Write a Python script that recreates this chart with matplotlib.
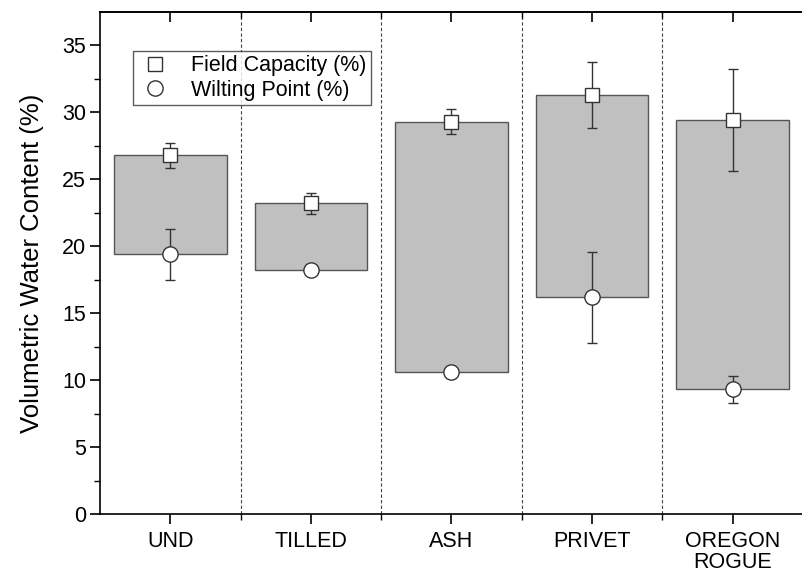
import numpy as np
import matplotlib.pyplot as plt
from matplotlib.lines import Line2D

plt.rcParams['font.family'] = ['Liberation Sans', 'DejaVu Sans']

# data
sites = ['UND', 'TILLED', 'ASH', 'PRIVET', 'OREGON\nROGUE']
field_capacity = [26.8, 23.2, 29.3, 31.3, 29.45]
fc_err = [0.95, 0.8, 0.95, 2.5, 3.8]
wilting_point = [19.4, 18.2, 10.6, 16.2, 9.3]
wp_err = [1.9, 0.0, 0.0, 3.4, 1.0]

x = np.arange(1, len(sites) + 1)

fig = plt.figure(figsize=(8.03, 5.79), dpi=100)
ax = fig.add_axes([0.1245, 0.1123, 0.8755, 0.867])

# floating bars from wilting point up to field capacity
heights = np.array(field_capacity) - np.array(wilting_point)
ax.bar(x, heights, bottom=wilting_point, width=0.8, color='#c0c0c0',
       edgecolor='#555555', linewidth=1.0, zorder=1)

# separators between groups
for xs in np.arange(1.5, len(sites), 1.0):
    ax.axvline(xs, color='#444444', linestyle=(0, (3, 2)), linewidth=0.8, zorder=0)

ax.errorbar(x, field_capacity, yerr=fc_err, fmt='s', markersize=10,
            markerfacecolor='white', markeredgecolor='#333333', markeredgewidth=1.0,
            ecolor='#333333', elinewidth=1.0, capsize=3.5, capthick=1.0, zorder=3)
ax.errorbar(x, wilting_point, yerr=wp_err, fmt='o', markersize=11,
            markerfacecolor='white', markeredgecolor='#333333', markeredgewidth=1.0,
            ecolor='#333333', elinewidth=1.0, capsize=3.5, capthick=1.0, zorder=3)

ax.set_xlim(0.5, 5.5)
ax.set_ylim(0, 37.5)
ax.set_xticks(x)
ax.set_xticklabels(sites, fontsize=15.5, linespacing=1.0)
ax.set_xticks(np.arange(1.5, len(sites), 1.0), minor=True)
ax.set_yticks(np.arange(0, 36, 5))
ax.set_yticks(np.arange(2.5, 37.5, 5), minor=True)
ax.tick_params(axis='y', labelsize=15.5, length=7, width=1.2, pad=3)
ax.tick_params(axis='y', which='minor', length=4, width=1.0)
ax.tick_params(axis='x', which='major', length=7, width=1.2, pad=5)
ax.tick_params(axis='x', which='minor', length=4, width=1.0)

# top ticks point inwards
top = ax.secondary_xaxis('top')
top.set_xticks(x)
top.set_xticks(np.arange(1.5, len(sites), 1.0), minor=True)
top.tick_params(which='major', direction='in', length=7, width=1.2, labeltop=False)
top.tick_params(which='minor', direction='in', length=4, width=1.0)
top.spines['top'].set_linewidth(1.2)

ax.set_ylabel('Volumetric Water Content (%)', fontsize=18.5, labelpad=13)

ax.spines['right'].set_visible(False)
for side in ['left', 'bottom', 'top']:
    ax.spines[side].set_linewidth(1.2)

handles = [
    Line2D([], [], linestyle='none', marker='s', markersize=10,
           markerfacecolor='white', markeredgecolor='#333333'),
    Line2D([], [], linestyle='none', marker='o', markersize=11,
           markerfacecolor='white', markeredgecolor='#333333'),
]
leg = ax.legend(handles, ['Field Capacity (%)', 'Wilting Point (%)'],
                loc='upper left', bbox_to_anchor=(0.047, 0.922), borderaxespad=0,
                fontsize=15.5, frameon=True, fancybox=False, edgecolor='#333333',
                handletextpad=0.9, handlelength=1.6, borderpad=0.2, labelspacing=0.15)
leg.get_frame().set_linewidth(1.0)

plt.savefig('out.png', dpi=100)
